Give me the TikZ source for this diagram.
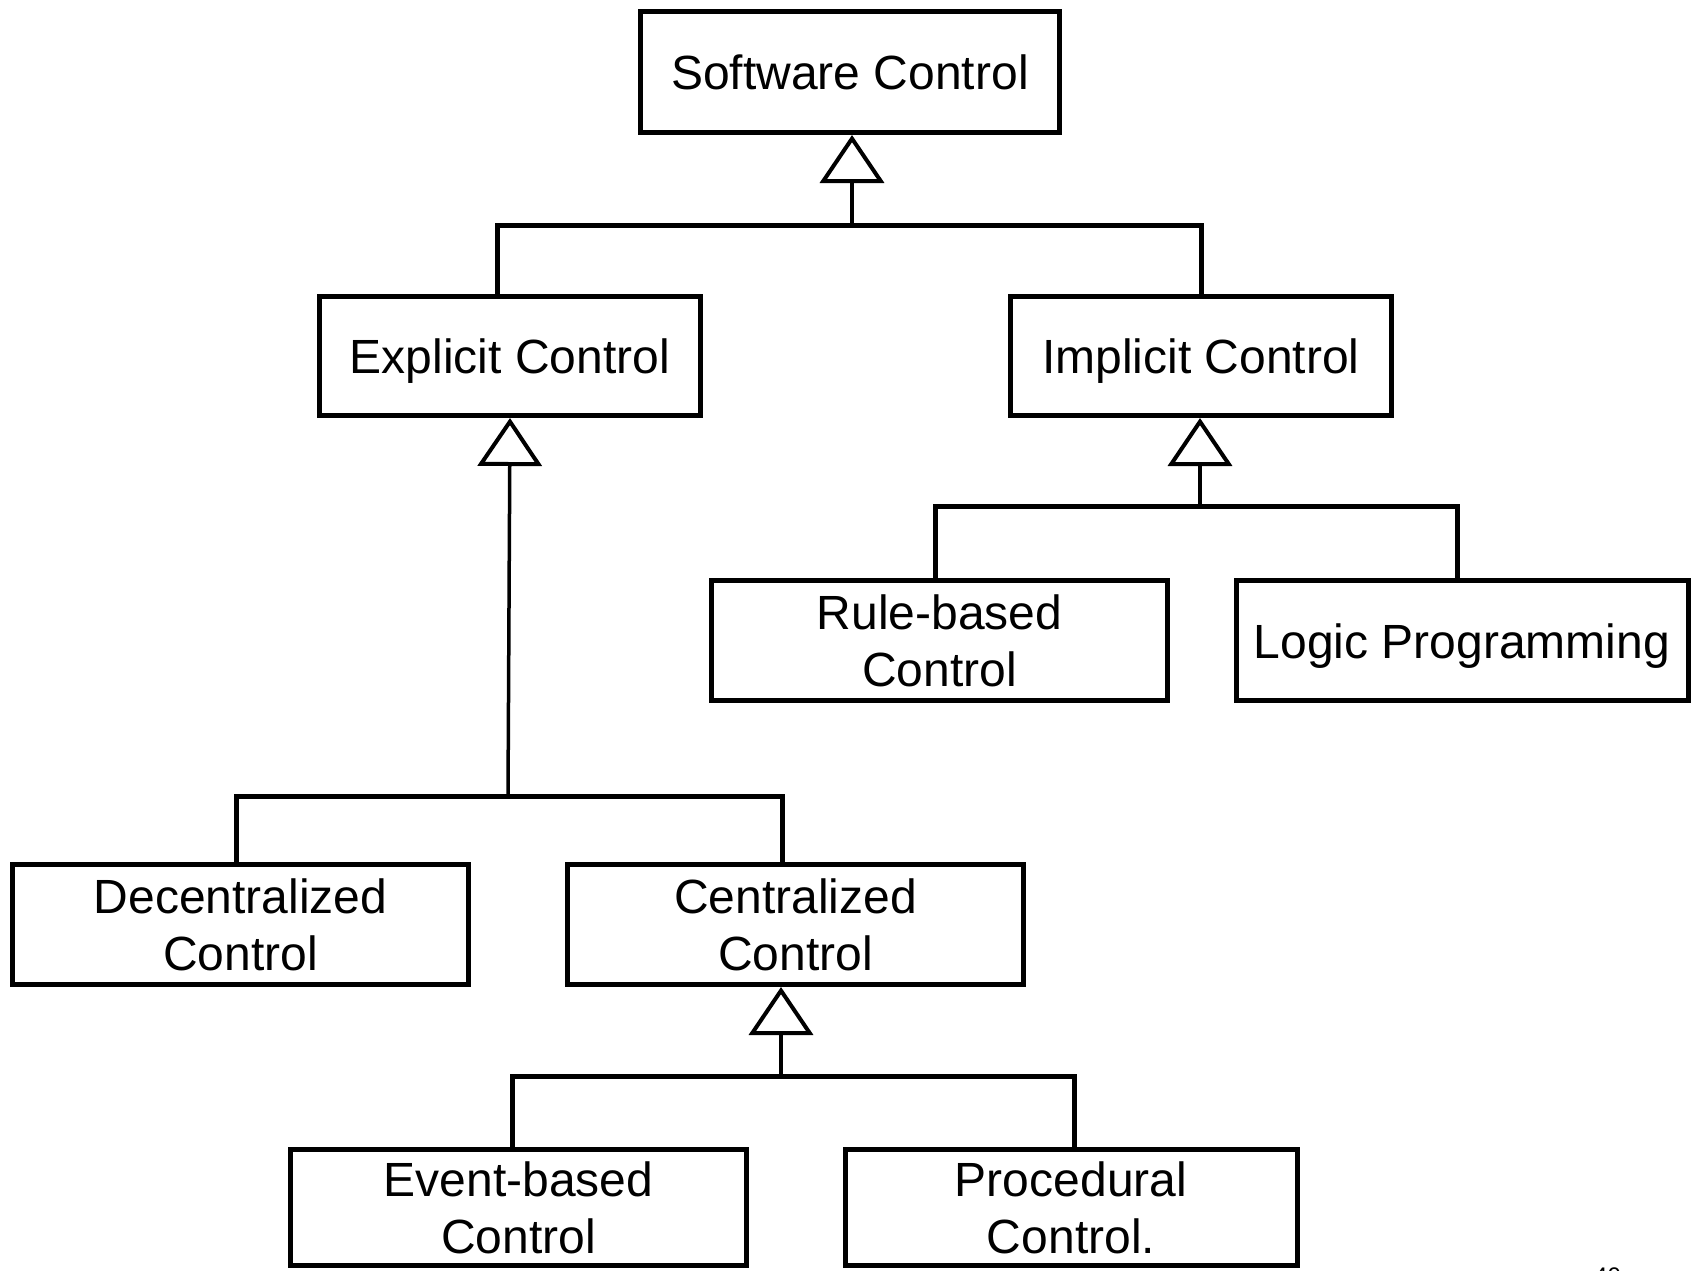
\documentclass[tikz,border=0pt]{standalone}
\usepackage{fontspec}
\setmainfont{Liberation Sans}
\usetikzlibrary{arrows.meta,calc}
\begin{document}
\begin{tikzpicture}[x=1pt,y=-1pt,
  box/.style={draw, line width=5pt, rectangle, inner sep=0pt, align=center,
    font=\fontsize{48}{57}\selectfont},
  oneline/.style={text height=35pt, text depth=0pt},
  bar/.style={line width=5pt},
  inh/.style={line width=3.5pt,
    -{Triangle[open, length=48pt, width=64pt, line width=4pt]}},
]
\useasboundingbox (0,0) rectangle (1692,1270);

\node[box, oneline, minimum width=419pt, minimum height=121pt] (sc) at (850,72) {Software Control};
\node[box, oneline, minimum width=381pt, minimum height=119pt] (ec) at (510,356) {Explicit Control};
\node[box, oneline, minimum width=381pt, minimum height=119pt] (ic) at (1201,356) {Implicit Control};
\node[box, minimum width=456pt, minimum height=120pt] (rb) at (939.5,640.5) {Rule-based\\Control};
\node[box, oneline, minimum width=452pt, minimum height=120pt] (lp) at (1462,640.5) {Logic Programming};
\node[box, minimum width=456pt, minimum height=120pt] (dc) at (240.5,924.5) {Decentralized\\Control};
\node[box, minimum width=456pt, minimum height=120pt] (cc) at (795.5,924.5) {Centralized\\Control};
\node[box, minimum width=456pt, minimum height=116pt] (eb) at (518.5,1207.5) {Event-based\\Control};
\node[box, minimum width=452pt, minimum height=116pt] (pc) at (1071,1207.5) {Procedural\\Control.};

% Software Control generalization
\coordinate (j0) at (852,225);
\coordinate (b0l) at (497,225);
\coordinate (b0r) at (1201,225);
\draw[inh] (j0) -- (j0 |- sc.south);
\draw[bar] (b0l |- ec.north) -- (b0l) -- (b0r) -- (b0r |- ic.north);

% Explicit Control generalization
\coordinate (j1) at (508,796);
\coordinate (b1l) at (236,796);
\coordinate (b1r) at (782,796);
\draw[inh] (j1) -- (ec.south);
\draw[bar] (b1l |- dc.north) -- (b1l) -- (b1r) -- (b1r |- cc.north);

% Implicit Control generalization
\coordinate (j2) at (1200,506);
\coordinate (b2l) at (935,506);
\coordinate (b2r) at (1457,506);
\draw[inh] (j2) -- (j2 |- ic.south);
\draw[bar] (b2l |- rb.north) -- (b2l) -- (b2r) -- (b2r |- lp.north);

% Centralized Control generalization
\coordinate (j3) at (781,1076);
\coordinate (b3l) at (512,1076);
\coordinate (b3r) at (1074,1076);
\draw[inh] (j3) -- (j3 |- cc.south);
\draw[bar] (b3l |- eb.north) -- (b3l) -- (b3r) -- (b3r |- pc.north);

% page number (cut off at the bottom edge, as in the reference)
\node[font=\fontsize{24}{24}\selectfont, anchor=base west, inner sep=0pt] (pg) at (1594,1284) {40};
\end{tikzpicture}
\end{document}
